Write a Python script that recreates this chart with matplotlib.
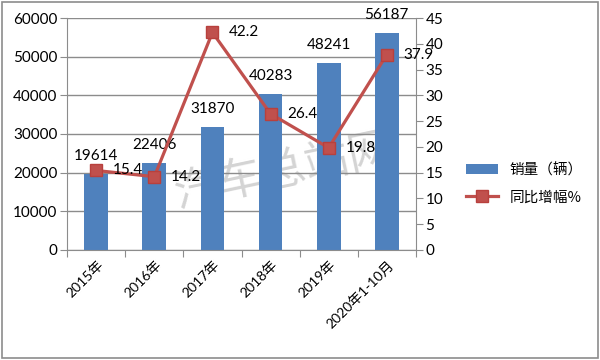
import matplotlib.pyplot as plt
import numpy as np

plt.rcParams['font.family'] = ['Lato', 'Noto Sans CJK SC', 'DejaVu Sans']

years = ['2015年', '2016年', '2017年', '2018年', '2019年', '2020年1-10月']
sales = [19614, 22406, 31870, 40283, 48241, 56187]
growth = [15.4, 14.2, 42.2, 26.4, 19.8, 37.9]

bar_c = '#4F81BD'
line_c = '#C0504D'
grid_c = '#8c8c8c'
fs = 11

fig = plt.figure(figsize=(6, 3.6), dpi=100)
ax = fig.add_axes([0.112, 0.306, 0.581, 0.644])
x = np.arange(len(years))

# watermark sits behind the bars
ax.text(0.62, 0.34, '汽车总站网', transform=ax.transAxes, fontsize=32,
        color='#d4d4d4', rotation=12, ha='center', va='center',
        family='Noto Sans CJK SC', fontweight='light', zorder=1)
ax.bar(x, sales, width=0.41, color=bar_c, zorder=2, label='销量（辆）')
ax.set_ylim(0, 60000)
ax.set_xlim(-0.5, len(years) - 0.5)
ax.set_yticks(range(0, 60001, 10000))
ax.yaxis.grid(True, color=grid_c, lw=1, zorder=0)
ax.set_xticks(np.arange(-0.5, len(years), 1))
ax.set_xticklabels([])
ax.set_xticks(x, minor=True)
ax.set_xticklabels(years, minor=True, rotation=45, ha='right', va='top',
                   rotation_mode='anchor', fontsize=10)
ax.tick_params(axis='x', which='minor', length=0, pad=6)
ax.tick_params(axis='x', which='major', length=5, color=grid_c)
ax.tick_params(axis='y', length=5, color=grid_c, labelsize=fs, pad=2)
for s in ['top', 'right']:
    ax.spines[s].set_visible(False)
for s in ['left', 'bottom']:
    ax.spines[s].set_color(grid_c)
for i, v in enumerate(sales):
    ax.annotate(str(v), (i, v), xytext=(0, 13), textcoords='offset points',
                ha='center', va='center', fontsize=fs)

ax2 = ax.twinx()
ax2.plot(x, growth, color=line_c, lw=2.3, marker='s', markersize=9,
         markerfacecolor=line_c, markeredgecolor='#b8403d', zorder=3,
         label='同比增幅%')
ax2.set_ylim(0, 45)
ax2.set_yticks(range(0, 46, 5))
ax2.tick_params(axis='y', length=5, color=grid_c, labelsize=fs, pad=2)
for s in ['top', 'left', 'bottom']:
    ax2.spines[s].set_visible(False)
ax2.spines['right'].set_color(grid_c)
for i, v in enumerate(growth):
    ax2.annotate(str(v), (i, v), xytext=(12, 0), textcoords='offset points',
                 ha='left', va='center', fontsize=fs, zorder=4)

h1, l1 = ax.get_legend_handles_labels()
h2, l2 = ax2.get_legend_handles_labels()
fig.legend(h1 + h2, l1 + l2, loc='center left', bbox_to_anchor=(0.755, 0.49),
           frameon=False, handlelength=2.2, labelspacing=0.9,
           prop={'family': ['Noto Sans CJK SC'], 'size': 10.5})

fig.patches.append(plt.Rectangle((0.003, 0.005), 0.994, 0.99, fill=False,
                                 edgecolor='#8c8c8c', lw=1.2,
                                 transform=fig.transFigure))
fig.savefig('out.png', dpi=100)
